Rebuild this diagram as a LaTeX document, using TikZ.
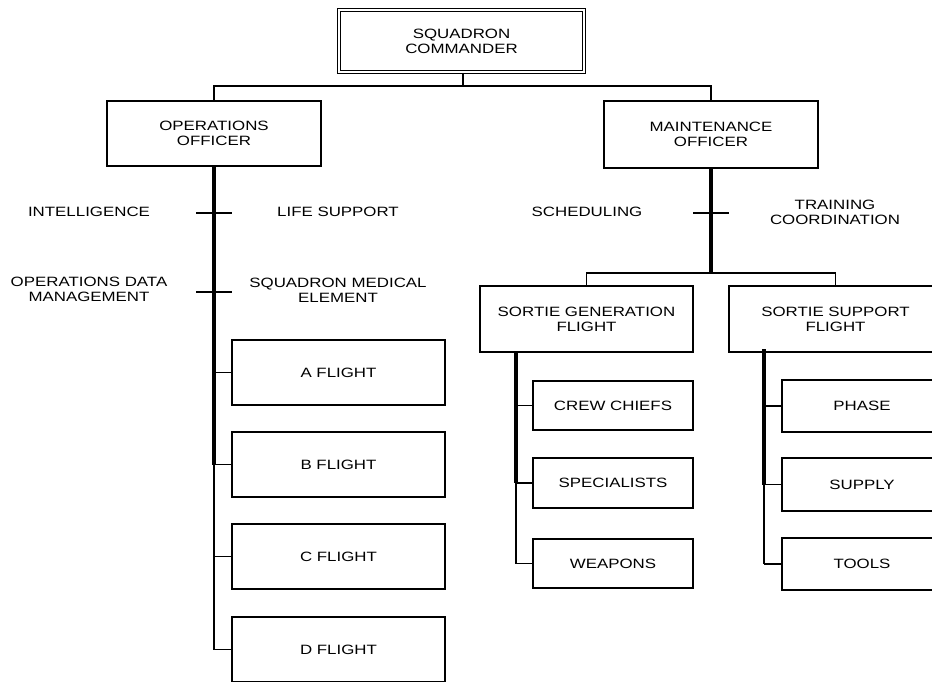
\documentclass[tikz,border=0pt]{standalone}
\usepackage{fontspec}
\setmainfont{Liberation Sans}[FakeStretch=1.25]
\begin{document}
\begin{tikzpicture}[x=1pt,y=-1pt,
  every node/.style={font=\fontsize{13.5}{15}\selectfont, align=center, inner sep=0pt},
  box/.style={draw=black, line width=1.1pt, rectangle},
  conn/.style={draw=black, line width=1.1pt},
  trunk/.style={draw=black, line width=3.2pt}]
\useasboundingbox (0,0) rectangle (932,681);
\clip (0,0) rectangle (932,681);
% commander
\node[draw=black, line width=1pt, double=white, double distance=2.4pt, minimum width=245.5pt, minimum height=62.5pt] (comm) at (461.5,41) {SQUADRON\\COMMANDER};
% officers
\node[box, minimum width=214pt, minimum height=65pt] (ops) at (214,133.5) {OPERATIONS\\OFFICER};
\node[box, minimum width=214pt, minimum height=67pt] (mo) at (711,134.5) {MAINTENANCE\\OFFICER};
\coordinate (bus) at (463,86);
\draw[conn] (comm.south -| bus) -- (bus);
\draw[conn] (ops.north) |- (bus) -| (mo.north);
% staff labels
\node (intel) at (89,212) {INTELLIGENCE};
\node (life) at (338,212) {LIFE SUPPORT};
\node (odm) at (89,289.5) {OPERATIONS DATA\\MANAGEMENT};
\node (sme) at (338,290.5) {SQUADRON MEDICAL\\ELEMENT};
\node (sched) at (587,212) {SCHEDULING};
\node (train) at (835,212) {TRAINING\\COORDINATION};
% ticks
\coordinate (t1a) at (196,213); \coordinate (t1b) at (232,213);
\coordinate (t2a) at (196,292); \coordinate (t2b) at (232,292);
\coordinate (t3a) at (693,213); \coordinate (t3b) at (729,213);
\draw[conn] (t1a) -- (t1b);
\draw[conn] (t2a) -- (t2b);
\draw[conn] (t3a) -- (t3b);
% flights
\node[box, minimum width=213pt, minimum height=65pt] (fa) at (338.5,372.5) {A FLIGHT};
\node[box, minimum width=213pt, minimum height=65pt] (fb) at (338.5,464.5) {B FLIGHT};
\node[box, minimum width=213pt, minimum height=65pt] (fc) at (338.5,556.5) {C FLIGHT};
\node[box, minimum width=213pt, minimum height=65pt] (fd) at (338.5,649.5) {D FLIGHT};
\coordinate (opsT) at (214,166);
\draw[trunk] (opsT) -- (opsT |- fb.west);
\draw[conn] (opsT |- fb.west) -- (opsT |- fd.west);
\draw[conn] (opsT |- fa.west) -- (fa.west);
\draw[conn] (opsT |- fb.west) -- (fb.west);
\draw[conn] (opsT |- fc.west) -- (fc.west);
\draw[conn] (opsT |- fd.west) -- (fd.west);
% maintenance
\node[box, minimum width=213pt, minimum height=66pt] (sgf) at (586.5,319) {SORTIE GENERATION\\FLIGHT};
\node[box, minimum width=213pt, minimum height=66pt] (ssf) at (835.5,319) {SORTIE SUPPORT\\FLIGHT};
\coordinate (mbus) at (711,273);
\draw[trunk] (mo.south) -- (mbus);
\draw[conn] (sgf.north) |- (mbus) -| (ssf.north);
% sortie generation children
\node[box, minimum width=160pt, minimum height=49pt] (cc) at (613,405.5) {CREW CHIEFS};
\node[box, minimum width=160pt, minimum height=50pt] (sp) at (613,483) {SPECIALISTS};
\node[box, minimum width=160pt, minimum height=49pt] (wp) at (613,563.5) {WEAPONS};
\coordinate (sgT) at (516,352);
\draw[trunk] (sgT) -- (sgT |- sp.west);
\draw[conn] (sgT |- sp.west) -- (sgT |- wp.west);
\draw[conn] (sgT |- cc.west) -- (cc.west);
\draw[conn] (sgT |- sp.west) -- (sp.west);
\draw[conn] (sgT |- wp.west) -- (wp.west);
% sortie support children
\node[box, minimum width=160pt, minimum height=52pt] (ph) at (862,406) {PHASE};
\node[box, minimum width=160pt, minimum height=53pt] (su) at (862,484.5) {SUPPLY};
\node[box, minimum width=160pt, minimum height=52pt] (tl) at (862,564) {TOOLS};
\coordinate (ssT) at (764,349);
\draw[trunk] (ssT) -- (ssT |- su.west);
\draw[conn] (ssT |- su.west) -- (ssT |- tl.west);
\draw[conn] (ssT |- ph.west) -- (ph.west);
\draw[conn] (ssT |- su.west) -- (su.west);
\draw[conn] (ssT |- tl.west) -- (tl.west);
\end{tikzpicture}
\end{document}
